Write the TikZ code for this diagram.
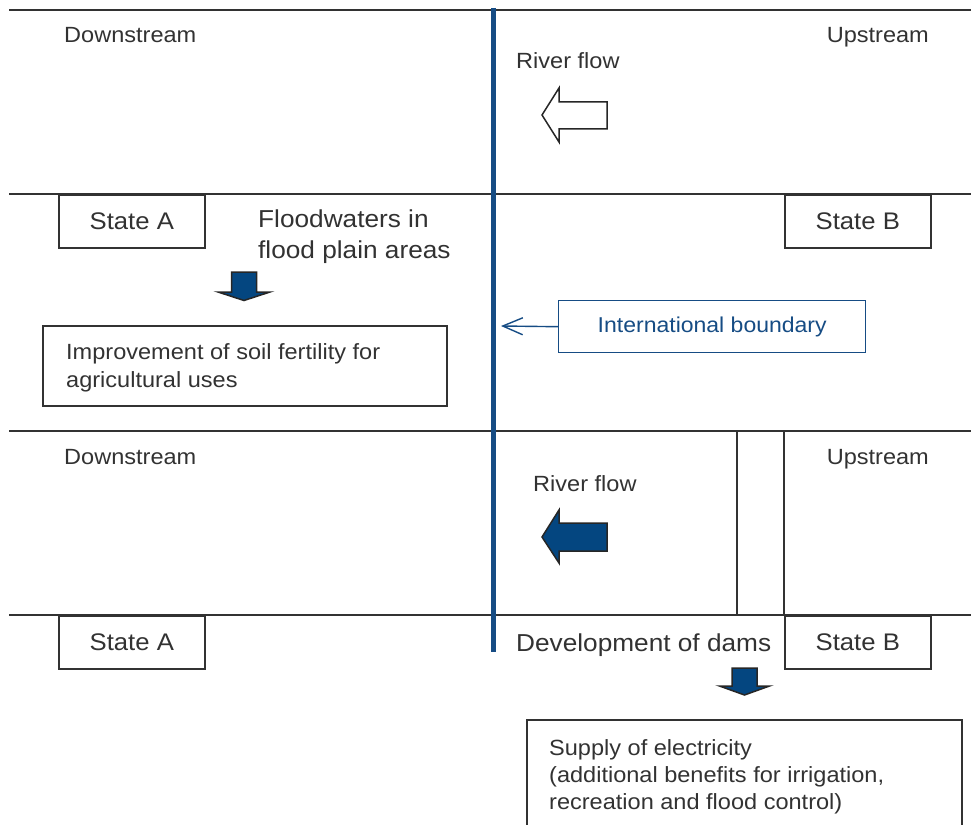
\documentclass[tikz,border=0pt]{standalone}
\usepackage{fontspec}
\setmainfont[FakeStretch=1.07]{Liberation Sans}
\usetikzlibrary{arrows.meta}
\definecolor{bnd}{RGB}{22,76,132}
\definecolor{fillblue}{RGB}{4,70,128}
\definecolor{ink}{RGB}{50,50,50}
\tikzset{
  rule/.style={draw=ink, line width=1.6pt},
  statebox/.style={draw=ink, line width=1.6pt, minimum width=146pt, minimum height=53pt, anchor=north west, inner sep=0pt, font=\fontsize{24}{28}\selectfont, text=ink},
  small/.style={font=\fontsize{22}{26}\selectfont, text=ink, inner sep=0pt},
  big/.style={font=\fontsize{24.5}{31}\selectfont, text=ink, inner sep=0pt},
  infobox/.style={draw=ink, line width=1.6pt, anchor=north west, inner sep=0pt},
  hollowarrow/.style={draw=black!85, line width=1.5pt, fill=white, line join=miter},
  solidarrow/.style={draw=black!85, line width=1.5pt, fill=fillblue, line join=miter},
}
\begin{document}
\begin{tikzpicture}[x=1pt,y=-1pt]
\useasboundingbox (0,0) rectangle (971,824);
% horizontal rules
\coordinate (l1a) at (9,10);  \coordinate (l1b) at (971,10);
\coordinate (l2a) at (9,194); \coordinate (l2b) at (971,194);
\coordinate (l3a) at (9,431); \coordinate (l3b) at (971,431);
\coordinate (l4a) at (9,615); \coordinate (l4b) at (971,615);
\draw[rule] (l1a) -- (l1b);
\draw[rule] (l2a) -- (l2b);
\draw[rule] (l3a) -- (l3b);
\draw[rule] (l4a) -- (l4b);
% dam
\coordinate (d1) at (737,431); \coordinate (d2) at (737,615);
\coordinate (d3) at (784,431); \coordinate (d4) at (784,615);
\draw[rule] (d1) -- (d2);
\draw[rule] (d3) -- (d4);

% top band
\node[small, anchor=base west] (ds1) at (64,43) {Downstream};
\node[small, anchor=base east] (us1) at (929,43) {Upstream};
\node[small, anchor=base west] (rf1) at (516,69) {River flow};
\draw[hollowarrow] (542,115) -- (559,88) -- (559,102) -- (607,102) -- (607,129) -- (559,129) -- (559,142) -- cycle;

% second band
\node[statebox] (sa1) at (58,194) {State A};
\node[statebox] (sb1) at (784,194) {State B};
\node[big, anchor=north west, align=left] (fw) at (258,210) {Floodwaters in\\flood plain areas};
\draw[solidarrow] (231.5,272) -- (256.5,272) -- (256.5,292) -- (270,292) -- (244,300.5) -- (218,292) -- (231.5,292) -- cycle;
\node[infobox, minimum width=404pt, minimum height=80pt] (imp) at (42,325) {};
\node[small, anchor=north west, align=left, font=\fontsize{22}{28}\selectfont] (impt) at (66,343) {Improvement of soil fertility for\\agricultural uses};

\node[draw=bnd, line width=1.4pt, text=bnd, minimum width=307pt, minimum height=52pt, anchor=north west, inner sep=0pt, font=\fontsize{21.5}{26}\selectfont] (ib) at (558,300) {International boundary};
\coordinate (ibend) at (501,326);
\draw[draw=bnd, line width=1.4pt, -{Straight Barb[length=20pt,width=17pt,line width=1.4pt]}] (ib.west) -- (ibend);

% third band
\node[small, anchor=base west] (ds2) at (64,464) {Downstream};
\node[small, anchor=base east] (us2) at (929,464) {Upstream};
\node[small, anchor=base west] (rf2) at (533,491) {River flow};
\draw[solidarrow] (542,537) -- (559,510) -- (559,523) -- (607,523) -- (607,551) -- (559,551) -- (559,563) -- cycle;

% bottom band
\node[statebox] (sa2) at (58,615) {State A};
\node[statebox] (sb2) at (784,615) {State B};
\node[big, anchor=base west] (dev) at (516,651) {Development of dams};
\draw[solidarrow] (732,668) -- (757,668) -- (757,686) -- (769.5,686) -- (744.5,695) -- (719.5,686) -- (732,686) -- cycle;
\coordinate (sp1) at (527,830); \coordinate (sp2) at (527,720);
\coordinate (sp3) at (962,720); \coordinate (sp4) at (962,830);
\draw[rule] (sp1) -- (sp2) -- (sp3) -- (sp4);
\node[small, anchor=north west, align=left, font=\fontsize{22}{27}\selectfont] (sup) at (549,739) {Supply of electricity\\(additional benefits for irrigation,\\recreation and flood control)};

% boundary line
\coordinate (btop) at (493,8); \coordinate (bbot) at (493,652);
\draw[bnd, line width=5pt] (btop) -- (bbot);
\end{tikzpicture}
\end{document}
